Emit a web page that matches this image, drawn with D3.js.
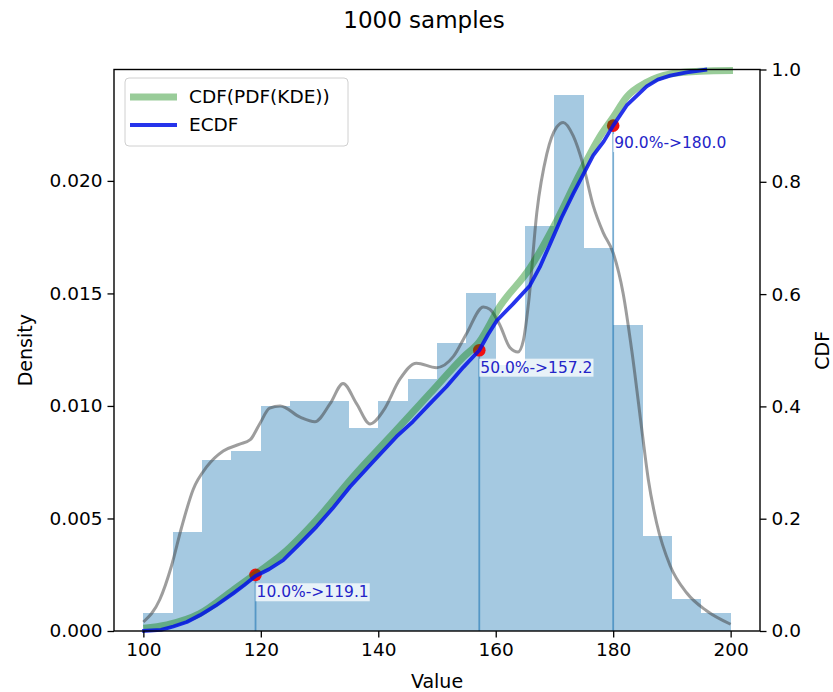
<!DOCTYPE html>
<html>
<head>
<meta charset="utf-8">
<script src="https://cdn.jsdelivr.net/npm/d3@7"></script>
<style>
  body { margin: 0; background: #fff; }
  svg { font-family: "DejaVu Sans", sans-serif; }
</style>
</head>
<body>
<svg id="chart" width="833" height="692"></svg>
<script>
// histogram: 20 bins of width 5, density per bin
const binStarts = [100, 105, 110, 115, 120, 125, 130, 135, 140, 145, 150, 155, 160, 165, 170, 175, 180, 185, 190, 195];
const binWidth = 5;
const densities = [0.0008, 0.0044, 0.0076, 0.0080, 0.0100, 0.0102, 0.0102, 0.0090, 0.0102, 0.0112,
                   0.0128, 0.0150, 0.0118, 0.0180, 0.0238, 0.0170, 0.0136, 0.0042, 0.0014, 0.0008];

// KDE curve
const kdeX = [100, 102.8, 104.8, 106.5, 108.5, 110.8, 113.6, 116.4, 118.2, 119.8, 121.5, 123.3, 126.7, 129.2,
              131.8, 134.0, 136.3, 138.6, 140.9, 143.7, 146.5, 149.9, 152.8, 155.0, 157.9, 159.0, 160.7, 162.4,
              163.8, 164.7, 165.6, 167.0, 168.7, 170.4, 171.5, 173.2, 174.9, 176.6, 178.3, 180.0, 181.7, 183.2,
              184.9, 186.0, 187.4, 189.7, 192.5, 195.9, 200];
const kdeY = [0.0004, 0.0014, 0.0029, 0.0046, 0.0063, 0.0073, 0.0080, 0.0083, 0.0085, 0.0092, 0.0099, 0.0100, 0.0095, 0.0093,
              0.0101, 0.0110, 0.0101, 0.0092, 0.0098, 0.0112, 0.0119, 0.0117, 0.0122, 0.0132, 0.0144, 0.0143, 0.0136, 0.0126,
              0.0124, 0.0129, 0.0146, 0.0186, 0.0212, 0.0224, 0.0226, 0.0220, 0.0207, 0.0189, 0.0177, 0.0168, 0.0150, 0.0124,
              0.0089, 0.0067, 0.0048, 0.0029, 0.0017, 0.0009, 0.0003];

// CDF of the KDE (green) and the empirical CDF (blue)
const cdfX = [100, 104, 109.6, 115.3, 119.3, 123.8, 129.5, 135.5, 143.1, 148.8, 154.5, 157.2, 160.7, 165.8,
              170.4, 174.3, 177.7, 180.0, 182.3, 185.7, 189.7, 194.8, 200.4];
const cdfY = [0.005, 0.011, 0.031, 0.073, 0.103, 0.138, 0.198, 0.272, 0.358, 0.423, 0.488, 0.515, 0.578, 0.646,
              0.731, 0.814, 0.880, 0.915, 0.951, 0.977, 0.992, 0.997, 0.998];
const ecdfX = [99.8, 103.0, 105.1, 107.4, 109.6, 112.3, 115.3, 117.2, 119.1, 121.4, 123.8, 126.5, 129.5, 132.2,
               135.2, 139.0, 143.1, 145.9, 148.8, 151.6, 154.5, 157.2, 158.7, 160.2, 163.0, 165.8, 167.5, 169.2,
               171.2, 173.2, 176.6, 178.4, 180.0, 182.3, 185.7, 187.6, 189.7, 192.5, 196.0];
const ecdfY = [0.0, 0.002, 0.008, 0.016, 0.028, 0.045, 0.067, 0.082, 0.098, 0.110, 0.126, 0.154, 0.186, 0.218,
               0.257, 0.300, 0.346, 0.373, 0.405, 0.435, 0.470, 0.500, 0.528, 0.553, 0.583, 0.615, 0.648, 0.688,
               0.736, 0.779, 0.847, 0.872, 0.900, 0.936, 0.970, 0.982, 0.989, 0.995, 1.0];

// quantiles marked on the chart
const quantiles = [0.1, 0.5, 0.9];
const quantileValues = [119.1, 157.2, 180.0];

const xTicks = [100, 120, 140, 160, 180, 200];
const densityTicks = [0, 0.005, 0.010, 0.015, 0.020];
const cdfTicks = [0, 0.2, 0.4, 0.6, 0.8, 1.0];

(function () {
    const svg = d3.select('#chart');
    const left = 114, right = 760, plotTop = 69.5, bottom = 631;

    const x = d3.scaleLinear().domain([95, 205]).range([left, right]);
    const yD = d3.scaleLinear().domain([0, 0.02495]).range([bottom, plotTop]);
    const yC = d3.scaleLinear().domain([0, 1]).range([bottom, plotTop]);

    // bars
    svg.append('g').selectAll('rect')
        .data(binStarts)
        .join('rect')
        .attr('x', (d) => x(d))
        .attr('y', (d, i) => yD(densities[i]))
        .attr('width', x(binWidth) - x(0))
        .attr('height', (d, i) => yD(0) - yD(densities[i]))
        .attr('fill', '#1f77b4')
        .attr('fill-opacity', 0.4)
        .attr('shape-rendering', 'crispEdges');

    // kde
    const kdeLine = d3.line().x((d) => x(d[0])).y((d) => yD(d[1])).curve(d3.curveMonotoneX);
    svg.append('path')
        .datum(kdeX.map((v, i) => [v, kdeY[i]]))
        .attr('d', kdeLine)
        .attr('fill', 'none')
        .attr('stroke', '#3c3c3c')
        .attr('stroke-opacity', 0.5)
        .attr('stroke-width', 3);

    // quantile markers
    const qg = svg.append('g');
    qg.selectAll('line')
        .data(quantileValues)
        .join('line')
        .attr('x1', (d) => x(d)).attr('x2', (d) => x(d))
        .attr('y1', yC(0))
        .attr('y2', (d, i) => yC(quantiles[i]))
        .attr('stroke', '#1f77b4')
        .attr('stroke-opacity', 0.6)
        .attr('stroke-width', 1.8);
    qg.selectAll('circle')
        .data(quantileValues)
        .join('circle')
        .attr('cx', (d) => x(d))
        .attr('cy', (d, i) => yC(quantiles[i]))
        .attr('r', 6.3)
        .attr('fill', '#f01010');

    // cdf curves
    const cdfLine = d3.line().x((d) => x(d[0])).y((d) => yC(d[1])).curve(d3.curveMonotoneX);
    svg.append('path')
        .datum(cdfX.map((v, i) => [v, cdfY[i]]))
        .attr('d', cdfLine)
        .attr('fill', 'none')
        .attr('stroke', 'green')
        .attr('stroke-opacity', 0.4)
        .attr('stroke-width', 7);
    svg.append('path')
        .datum(ecdfX.map((v, i) => [v, ecdfY[i]]))
        .attr('d', d3.line().x((d) => x(d[0])).y((d) => yC(d[1])))
        .attr('fill', 'none')
        .attr('stroke', '#0010e8')
        .attr('stroke-opacity', 0.85)
        .attr('stroke-width', 3.8)
        .attr('stroke-linejoin', 'round');

    // quantile labels with white boxes
    quantileValues.forEach((v, i) => {
        const g = svg.append('g');
        const t = g.append('text')
            .attr('x', x(v) + 1)
            .attr('y', yC(quantiles[i]) + 17)
            .attr('dy', '0.35em')
            .attr('font-size', '15.5px')
            .attr('fill', '#2424c8')
            .text(`${(quantiles[i] * 100).toFixed(1)}%->${v.toFixed(1)}`);
        const bb = t.node().getBBox();
        g.insert('rect', 'text')
            .attr('x', bb.x - 1).attr('y', bb.y)
            .attr('width', bb.width + 2).attr('height', bb.height)
            .attr('fill', '#fff').attr('fill-opacity', 0.75);
    });

    // frame
    svg.append('rect')
        .attr('x', left).attr('y', plotTop)
        .attr('width', right - left).attr('height', bottom - plotTop)
        .attr('fill', 'none').attr('stroke', '#000').attr('stroke-width', 1.4);

    function styleAxis(g) {
        g.select('.domain').remove();
        g.selectAll('.tick line').attr('stroke', '#000').attr('stroke-width', 1.3);
        g.selectAll('.tick text').attr('font-size', '18.5px').attr('fill', '#000')
            .attr('font-family', '"DejaVu Sans", sans-serif');
    }

    svg.append('g')
        .attr('transform', `translate(0,${bottom})`)
        .call(d3.axisBottom(x).tickValues(xTicks).tickSize(6.5).tickPadding(5).tickFormat(d3.format('d')))
        .call(styleAxis);
    svg.append('g')
        .attr('transform', `translate(${left},0)`)
        .call(d3.axisLeft(yD).tickValues(densityTicks).tickSize(6.5).tickPadding(5).tickFormat(d3.format('.3f')))
        .call(styleAxis);
    svg.append('g')
        .attr('transform', `translate(${right},0)`)
        .call(d3.axisRight(yC).tickValues(cdfTicks).tickSize(6.5).tickPadding(5).tickFormat(d3.format('.1f')))
        .call(styleAxis);

    // titles
    svg.append('text')
        .attr('x', 424).attr('y', 28)
        .attr('text-anchor', 'middle')
        .attr('font-size', '23px')
        .text('1000 samples');
    svg.append('text')
        .attr('x', (left + right) / 2).attr('y', 688)
        .attr('text-anchor', 'middle')
        .attr('font-size', '19px')
        .text('Value');
    svg.append('text')
        .attr('transform', `translate(25,${(plotTop + bottom) / 2}) rotate(-90)`)
        .attr('text-anchor', 'middle')
        .attr('dy', '0.35em')
        .attr('font-size', '19px')
        .text('Density');
    svg.append('text')
        .attr('transform', `translate(822,${(plotTop + bottom) / 2}) rotate(-90)`)
        .attr('text-anchor', 'middle')
        .attr('dy', '0.35em')
        .attr('font-size', '19px')
        .text('CDF');

    // legend
    const legend = svg.append('g');
    legend.append('rect')
        .attr('x', 125).attr('y', 78).attr('width', 223).attr('height', 68)
        .attr('rx', 4)
        .attr('fill', '#fff').attr('fill-opacity', 0.8)
        .attr('stroke', '#d0d0d0');
    const legendItems = [
        { label: 'CDF(PDF(KDE))', color: 'green', opacity: 0.4, width: 7, y: 97 },
        { label: 'ECDF', color: '#0010e8', opacity: 0.85, width: 3.8, y: 125 }
    ];
    legendItems.forEach((d) => {
        legend.append('line')
            .attr('x1', 130).attr('x2', 177)
            .attr('y1', d.y).attr('y2', d.y)
            .attr('stroke', d.color).attr('stroke-opacity', d.opacity).attr('stroke-width', d.width);
        legend.append('text')
            .attr('x', 189).attr('y', d.y).attr('dy', '0.35em')
            .attr('font-size', '18.5px')
            .text(d.label);
    });
})();
</script>
</body>
</html>
